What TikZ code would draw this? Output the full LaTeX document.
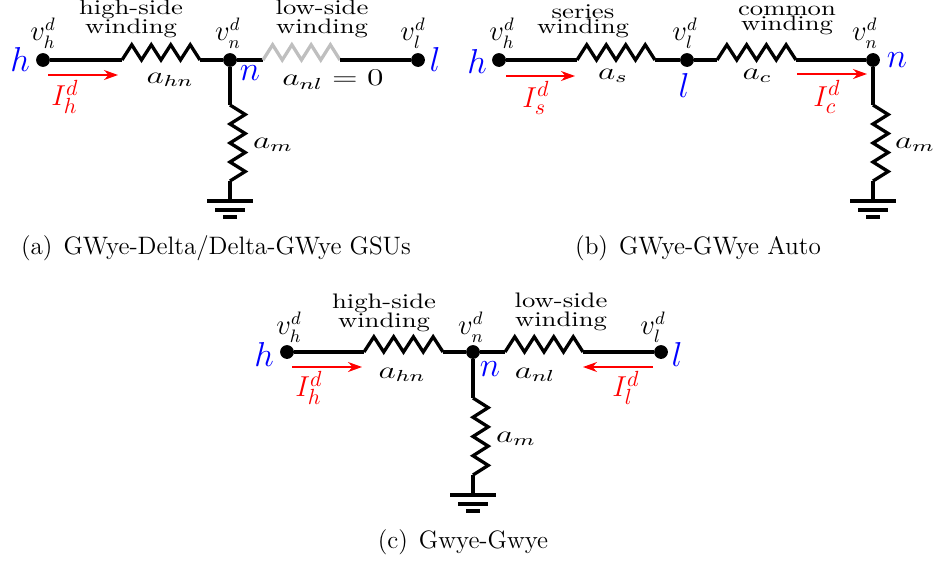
\documentclass[tikz,border=0pt]{standalone}
\usepackage{tikz}
\usetikzlibrary{calc, arrows.meta}

\newcommand{\winding}[3][black]{\draw[wire, #1] (#2) foreach \k in {1,3,5,7} { -- ($(#2)!\k/8!(#3)!7.6pt!90:(#3)$) -- ($(#2)!\k/8+1/8!(#3)$) };}
\newcommand{\groundbars}[1]{
  \draw[wire] ([xshift=-11.5pt]#1) -- ([xshift=11.5pt]#1);
  \draw[wire] ([xshift=-7.5pt,yshift=-4.5pt]#1) -- ([xshift=7.5pt,yshift=-4.5pt]#1);
  \draw[wire] ([xshift=-3.5pt,yshift=-8pt]#1) -- ([xshift=3.5pt,yshift=-8pt]#1);
}

\begin{document}
\begin{tikzpicture}[
      x=0.5pt, y=-0.5pt,
      wire/.style={line width=1.65pt},
      bus/.style={draw=none, fill=black, circle, inner sep=0pt, minimum size=6.9pt},
      busname/.style={text=blue, font=\fontsize{16}{16}\selectfont},
      volt/.style={font=\fontsize{13.5}{13.5}\selectfont},
      param/.style={font=\fontsize{11.5}{11.5}\selectfont, xscale=1.4},
      label/.style={align=center, font=\fontsize{10.5}{9.5}\selectfont, xscale=1.27},
      current/.style={text=red, font=\fontsize{15}{15}\selectfont},
      flow/.style={-{Stealth[length=7pt, width=5pt]}, red, line width=0.85pt},
      caption/.style={font=\fontsize{12.6}{12.6}\selectfont}
    ]
      \useasboundingbox (0,0) rectangle (937,562);

      \node[bus] (ah) at (43,60) {};
      \node[bus] (an) at (230,60) {};
      \node[bus] (al) at (418,60) {};
      \coordinate (ar1) at (122,60);
      \coordinate (ar2) at (200,60);
      \coordinate (ar3) at (263,60);
      \coordinate (ar4) at (340,60);
      \coordinate (ar5) at (230,105);
      \coordinate (ar6) at (230,181);
      \coordinate (agnd) at (230,201);
      \coordinate (aflow1) at (48,75);
      \coordinate (aflow2) at (118,75);
      \draw[wire] (ah) -- (ar1);
      \winding{ar1}{ar2}
      \draw[wire] (ar2) -- (an) -- (ar3);
      \winding[black!25]{ar3}{ar4}
      \draw[wire] (ar4) -- (al);
      \draw[wire] (an) -- (ar5);
      \winding{ar5}{ar6}
      \draw[wire] (ar6) -- (agnd);
      \groundbars{agnd}
      \draw[flow] (aflow1) -- (aflow2);
      \node[busname] (ahname) at (20,59) {$h$};
      \node[busname] (anname) at (250,73) {$n$};
      \node[busname] (alname) at (435,59) {$l$};
      \node[volt] (ahv) at (43,33) {$v_h^d$};
      \node[volt] (anv) at (228,33) {$v_n^d$};
      \node[volt] (alv) at (413,33) {$v_l^d$};
      \node[label] (ahw) at (131,19) {high-side\\winding};
      \node[label] (alw) at (322,19) {low-side\\winding};
      \node[param] (ahn) at (170,80) {$a_{hn}$};
      \node[param] (anl) at (333,80) {$a_{nl}=0$};
      \node[param] (am) at (273,145) {$a_m$};
      \node[current] (aI) at (65,97) {$I_h^d$};
      \node[caption] (acap) at (216,248) {(a)\hspace{5.5pt}GWye-Delta/Delta-GWye GSUs};

      \node[bus] (bh) at (499,60) {};
      \node[bus] (bl) at (687,60) {};
      \node[bus] (bn) at (873,60) {};
      \coordinate (br1) at (577,60);
      \coordinate (br2) at (655,60);
      \coordinate (br3) at (717,60);
      \coordinate (br4) at (796,60);
      \coordinate (br5) at (873,105);
      \coordinate (br6) at (873,181);
      \coordinate (bgnd) at (873,201);
      \coordinate (bflow1) at (506,76);
      \coordinate (bflow2) at (575,76);
      \coordinate (bflow3) at (797,74);
      \coordinate (bflow4) at (867,74);
      \draw[wire] (bh) -- (br1);
      \winding{br1}{br2}
      \draw[wire] (br2) -- (bl) -- (br3);
      \winding{br3}{br4}
      \draw[wire] (br4) -- (bn) -- (br5);
      \winding{br5}{br6}
      \draw[wire] (br6) -- (bgnd);
      \groundbars{bgnd}
      \draw[flow] (bflow1) -- (bflow2);
      \draw[flow] (bflow3) -- (bflow4);
      \node[busname] (bhname) at (477,61) {$h$};
      \node[busname] (blname) at (684,85) {$l$};
      \node[busname] (bnname) at (897,60) {$n$};
      \node[volt] (bhv) at (502,33) {$v_h^d$};
      \node[volt] (blv) at (685,33) {$v_l^d$};
      \node[volt] (bnv) at (865,33) {$v_n^d$};
      \node[label] (bsw) at (583,21) {series\\[-2pt]winding};
      \node[label] (bcw) at (787,20) {common\\[-2pt]winding};
      \node[param] (bas) at (613,76) {$a_s$};
      \node[param] (bac) at (757,76) {$a_c$};
      \node[param] (bam) at (915,145) {$a_m$};
      \node[current] (bIs) at (536,98) {$I_s^d$};
      \node[current] (bIc) at (827,97) {$I_c^d$};
      \node[caption] (bcap) at (698,248) {(b)\hspace{5.5pt}GWye-GWye Auto};

      \node[bus] (ch) at (287,352) {};
      \node[bus] (cn) at (473,352) {};
      \node[bus] (cl) at (661,352) {};
      \coordinate (cr1) at (364,352);
      \coordinate (cr2) at (443,352);
      \coordinate (cr3) at (505,352);
      \coordinate (cr4) at (583,352);
      \coordinate (cr5) at (473,398);
      \coordinate (cr6) at (473,475);
      \coordinate (cgnd) at (473,495);
      \coordinate (cflow1) at (292,367);
      \coordinate (cflow2) at (362,367);
      \coordinate (cflow3) at (653,367);
      \coordinate (cflow4) at (583,367);
      \draw[wire] (ch) -- (cr1);
      \winding{cr1}{cr2}
      \draw[wire] (cr2) -- (cn) -- (cr3);
      \winding{cr3}{cr4}
      \draw[wire] (cr4) -- (cl);
      \draw[wire] (cn) -- (cr5);
      \winding{cr5}{cr6}
      \draw[wire] (cr6) -- (cgnd);
      \groundbars{cgnd}
      \draw[flow] (cflow1) -- (cflow2);
      \draw[flow] (cflow3) -- (cflow4);
      \node[busname] (chname) at (264,354) {$h$};
      \node[busname] (cnname) at (490,369) {$n$};
      \node[busname] (clname) at (677,354) {$l$};
      \node[volt] (chv) at (289,327) {$v_h^d$};
      \node[volt] (cnv) at (471,327) {$v_n^d$};
      \node[volt] (clv) at (653,327) {$v_l^d$};
      \node[label] (chw) at (384,313) {high-side\\winding};
      \node[label] (clw) at (561,312) {low-side\\winding};
      \node[param] (chn) at (402,375) {$a_{hn}$};
      \node[param] (cnl) at (535,375) {$a_{nl}$};
      \node[param] (cam) at (516,439) {$a_m$};
      \node[current] (cIh) at (309,388) {$I_h^d$};
      \node[current] (cIl) at (626,388) {$I_l^d$};
      \node[caption] (ccap) at (463,542) {(c)\hspace{5.5pt}Gwye-Gwye};
    \end{tikzpicture}
\end{document}
